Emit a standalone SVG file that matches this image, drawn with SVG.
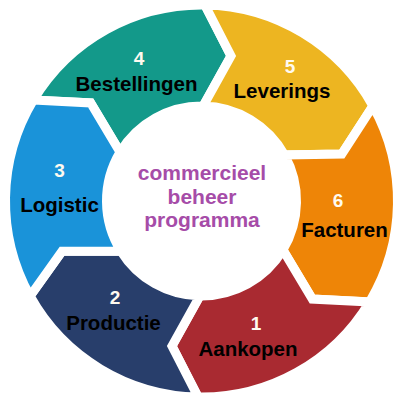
<svg xmlns="http://www.w3.org/2000/svg" width="407" height="405" viewBox="0 0 407 405">
<style>
.seg{stroke:#fff;stroke-width:9;stroke-linejoin:miter;stroke-miterlimit:12}
.num{font-family:"Liberation Sans",Arial,sans-serif;font-weight:bold;font-size:19px;fill:#fffaf0;text-anchor:middle}
.lbl{font-family:"Liberation Sans",Arial,sans-serif;font-weight:bold;font-size:20.5px;fill:#000;text-anchor:middle}
.ctr{font-family:"Liberation Sans",Arial,sans-serif;font-weight:bold;font-size:21px;fill:#a64ca8;text-anchor:middle}
</style>
<rect width="407" height="405" fill="#fff"/>
<g id="node4">
<path class="seg" fill="#13998a" d="M33.50,100.05 A196,196 0 0 1 204.92,5.03 L231.01,55.97 L203.16,106.01 A95,95 0 0 0 120.07,152.07 L90.65,102.93 Z"/>
<text class="num" x="139" y="65">4</text>
<text class="lbl" x="136.5" y="91">Bestellingen</text>
</g>
<g id="node5">
<path class="seg" fill="#edb521" d="M204.92,5.03 A196,196 0 0 1 372.93,105.98 L341.85,154.04 L284.59,154.94 A95,95 0 0 0 203.16,106.01 L231.01,55.97 Z"/>
<text class="num" x="290" y="73">5</text>
<text class="lbl" x="282" y="98">Leverings</text>
</g>
<g id="node6">
<path class="seg" fill="#ee8507" d="M372.93,105.98 A196,196 0 0 1 369.50,301.95 L312.35,299.07 L282.93,249.93 A95,95 0 0 0 284.59,154.94 L341.85,154.04 Z"/>
<text class="num" x="338" y="207">6</text>
<text class="lbl" x="344.5" y="237">Facturen</text>
</g>
<g id="node1">
<path class="seg" fill="#a92a31" d="M369.50,301.95 A196,196 0 0 1 198.08,396.97 L171.99,346.03 L199.84,295.99 A95,95 0 0 0 282.93,249.93 L312.35,299.07 Z"/>
<text class="num" x="256" y="330">1</text>
<text class="lbl" x="248" y="356">Aankopen</text>
</g>
<g id="node2">
<path class="seg" fill="#283e6b" d="M198.08,396.97 A196,196 0 0 1 30.07,296.02 L62,251.34 L120.94,251.34 A95,95 0 0 0 199.84,295.99 L171.99,346.03 Z"/>
<text class="num" x="115" y="303.5">2</text>
<text class="lbl" x="113.5" y="330">Productie</text>
</g>
<g id="node3">
<path class="seg" fill="#1a93d9" d="M30.07,296.02 A196,196 0 0 1 33.50,100.05 L90.65,102.93 L120.07,152.07 A95,95 0 0 0 120.94,251.34 L62,251.34 Z"/>
<text class="num" x="59.5" y="177">3</text>
<text class="lbl" x="59.5" y="212">Logistic</text>
</g>
<g id="center">
<text class="ctr" x="202" y="180">commercieel</text>
<text class="ctr" x="202" y="203.5">beheer</text>
<text class="ctr" x="202" y="227">programma</text>
</g>
<g id="connectors"></g>
</svg>
